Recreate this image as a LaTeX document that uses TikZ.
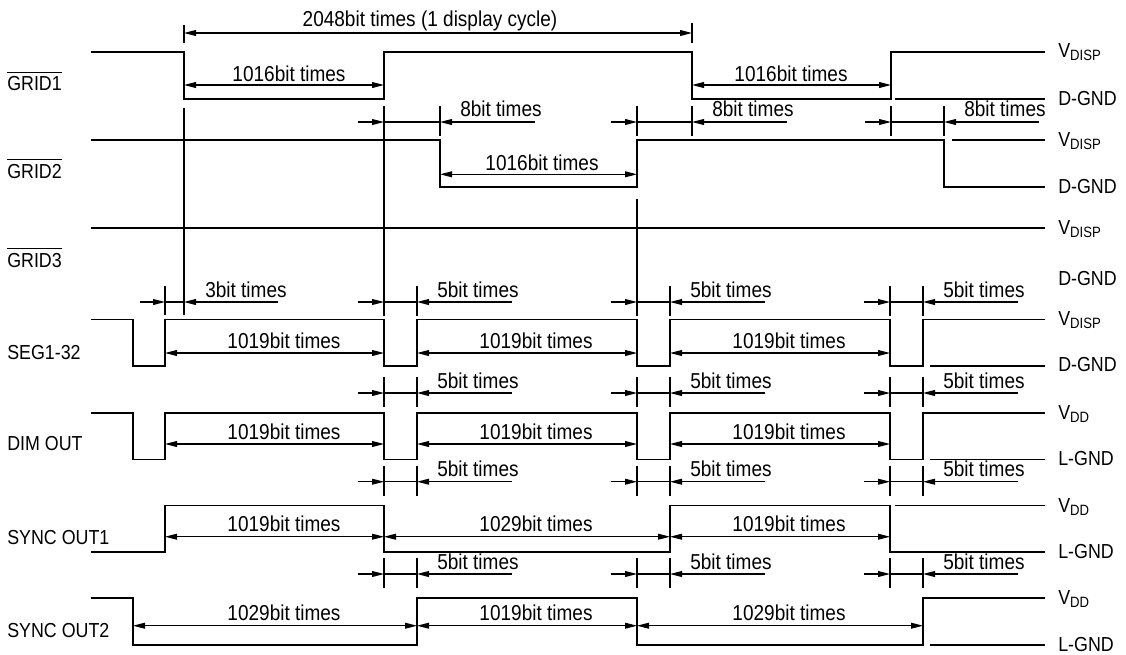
\documentclass[tikz,border=0pt]{standalone}
\usepackage{fontspec}
\setmainfont{Liberation Sans}[FakeStretch=0.88]
\usetikzlibrary{arrows.meta}
\tikzset{
  sig/.style={line width=1pt},
  dimln/.style={line width=0.8pt},
  onetip/.style={dimln,-{Triangle[length=9pt,width=4.4pt]}},
  twotip/.style={dimln,{Triangle[length=9pt,width=4.4pt]}-{Triangle[length=9pt,width=4.4pt]}},
  dimtxt/.style={font=\fontsize{16.2}{18}\selectfont, inner sep=0pt, anchor=base},
  dimtxtl/.style={dimtxt, anchor=base west},
  lefttxt/.style={font=\fontsize{15.2}{17}\selectfont, inner sep=0pt, anchor=base west},
  righttxt/.style={font=\fontsize{15.2}{17}\selectfont, inner sep=0pt, anchor=base west},
}
\newcommand{\Vsub}[1]{V\raisebox{-2.4pt}{\fontsize{11.2}{12}\selectfont #1}}
\begin{document}
\begin{tikzpicture}[x=0.75pt,y=-0.75pt]
\useasboundingbox (0,0) rectangle (1126,654);

% ---------------- left labels
\node[lefttxt] (lg1) at (7,90.7) {GRID1};
\node[lefttxt] (lg2) at (7,178.3) {GRID2};
\node[lefttxt] (lg3) at (7,267.3) {GRID3};
\foreach \n in {lg1,lg2,lg3}
  \draw[line width=0.8pt] ([yshift=3pt]\n.north west) -- ([yshift=3pt]\n.north east);
\node[lefttxt] (lseg) at (7,359) {SEG1-32};
\node[lefttxt] (ldim) at (7,450.7) {DIM OUT};
\node[lefttxt] (ls1) at (7,544.3) {SYNC OUT1};
\node[lefttxt] (ls2) at (7,637.3) {SYNC OUT2};

% ---------------- right labels
\node[righttxt] (r1a) at (1058,57.5) {\Vsub{DISP}};
\node[righttxt] (r1b) at (1058,105) {D-GND};
\node[righttxt] (r2a) at (1058,146.5) {\Vsub{DISP}};
\node[righttxt] (r2b) at (1058,193.3) {D-GND};
\node[righttxt] (r3a) at (1058,234.5) {\Vsub{DISP}};
\node[righttxt] (r3b) at (1058,285) {D-GND};
\node[righttxt] (r4a) at (1058,325.5) {\Vsub{DISP}};
\node[righttxt] (r4b) at (1058,371.7) {D-GND};
\node[righttxt] (r5a) at (1058,419) {\Vsub{DD}};
\node[righttxt] (r5b) at (1058,465) {L-GND};
\node[righttxt] (r6a) at (1058,512) {\Vsub{DD}};
\node[righttxt] (r6b) at (1058,558) {L-GND};
\node[righttxt] (r7a) at (1058,604) {\Vsub{DD}};
\node[righttxt] (r7b) at (1058,651) {L-GND};

% ---------------- signals
% GRID1
\draw[sig] (90.7,52) -- (184,52) -- (184,99) -- (384,99) -- (384,52) -- (692,52) -- (692,99) -- (891,99) -- (891,52) -- (1045,52);
\draw[sig] (895,99) -- (1045,99);
% GRID2
\draw[sig] (90.7,140) -- (440,140) -- (440,187) -- (637,187) -- (637,140) -- (944,140) -- (944,187) -- (1045,187);
\draw[sig] (952,140) -- (1045,140);
% GRID3
\draw[sig] (90.7,228) -- (1045,228);
% SEG1-32 and DIM OUT
\foreach \H/\L in {319.3/366, 413/459.3}{
  \draw[sig] (90.7,\H) -- (133,\H) -- (133,\L) -- (165,\L) -- (165,\H) -- (384,\H) -- (384,\L) -- (417,\L) -- (417,\H) -- (637,\H) -- (637,\L) -- (670,\L) -- (670,\H) -- (890,\H) -- (890,\L) -- (923,\L) -- (923,\H) -- (1045,\H);
  \draw[sig] (930,\L) -- (1045,\L);
}
% SYNC OUT1
\draw[sig] (90.7,552) -- (165,552) -- (165,505.7) -- (384,505.7) -- (384,552) -- (670,552) -- (670,505.7) -- (890,505.7) -- (890,552) -- (1045,552);
\draw[sig] (895,505.7) -- (1045,505.7);
% SYNC OUT2
\draw[sig] (90.7,598) -- (133,598) -- (133,645) -- (417,645) -- (417,598) -- (637,598) -- (637,645) -- (923,645) -- (923,598) -- (1045,598);
\draw[sig] (930,645) -- (1045,645);

% ---------------- long markers
\draw[dimln] (184,108) -- (184,315);
\draw[dimln] (384,108) -- (384,315);
\draw[dimln] (637,199) -- (637,315);

% ---------------- 2048 bit times
\draw[dimln] (184,25) -- (184,43);
\draw[dimln] (692,23) -- (692,43);
\draw[twotip] (184,33) -- (692,33);
\node[dimtxt] (t2048) at (430,26.5) {2048bit times (1 display cycle)};

% ---------------- 1016 bit times
\draw[twotip] (184,85) -- (384,85);
\node[dimtxt] (t1016a) at (289,81.5) {1016bit times};
\draw[twotip] (692,85) -- (891,85);
\node[dimtxt] (t1016b) at (791,81.5) {1016bit times};
\draw[twotip] (440,174.3) -- (637,174.3);
\node[dimtxt] (t1016c) at (542,170) {1016bit times};

% ---------------- 8 bit times
\foreach \a/\b in {384/440, 637/692, 891/944}{
  \draw[dimln] (\a,106) -- (\a,136);
  \draw[dimln] (\b,106) -- (\b,136);
  \draw[onetip] (\a-26,122) -- (\a,122);
  \draw[dimln] (\a,122) -- (\b,122);
  \draw[onetip] (\b+95,122) -- (\b,122);
  \node[dimtxtl] at (\b+20,116.5) {8bit times};
}

% ---------------- 3 bit times
\draw[dimln] (165,286) -- (165,315);
\draw[onetip] (140,302) -- (165,302);
\draw[dimln] (165,302) -- (184,302);
\draw[onetip] (278,302) -- (184,302);
\node[dimtxtl] (t3) at (205,297) {3bit times};

% ---------------- 5 bit times rows
\foreach \y in {302, 393, 481.7, 574}{
  \foreach \a/\b in {384/417, 637/670, 890/923}{
    \draw[dimln] (\a,\y-16) -- (\a,\y+14);
    \draw[dimln] (\b,\y-16) -- (\b,\y+14);
    \draw[onetip] (\a-26,\y) -- (\a,\y);
    \draw[dimln] (\a,\y) -- (\b,\y);
    \draw[onetip] (\b+95,\y) -- (\b,\y);
    \node[dimtxtl] at (\b+20,\y-5) {5bit times};
  }
}

% ---------------- 1019 / 1029 arrows
\foreach \y in {353, 444}{
  \draw[twotip] (165,\y) -- (384,\y);
  \node[dimtxt] at (284,\y-5) {1019bit times};
  \draw[twotip] (417,\y) -- (637,\y);
  \node[dimtxt] at (536,\y-5) {1019bit times};
  \draw[twotip] (670,\y) -- (890,\y);
  \node[dimtxt] at (789,\y-5) {1019bit times};
}
\draw[twotip] (165,536.7) -- (384,536.7);
\node[dimtxt] (s1a) at (284,531.7) {1019bit times};
\draw[twotip] (384,536.7) -- (670,536.7);
\node[dimtxt] (s1b) at (536,531.7) {1029bit times};
\draw[twotip] (670,536.7) -- (890,536.7);
\node[dimtxt] (s1c) at (789,531.7) {1019bit times};

\draw[twotip] (133,625.7) -- (417,625.7);
\node[dimtxt] (s2a) at (284,620) {1029bit times};
\draw[twotip] (417,625.7) -- (637,625.7);
\node[dimtxt] (s2b) at (536,620) {1019bit times};
\draw[twotip] (637,625.7) -- (923,625.7);
\node[dimtxt] (s2c) at (789,620) {1029bit times};
\end{tikzpicture}
\end{document}
